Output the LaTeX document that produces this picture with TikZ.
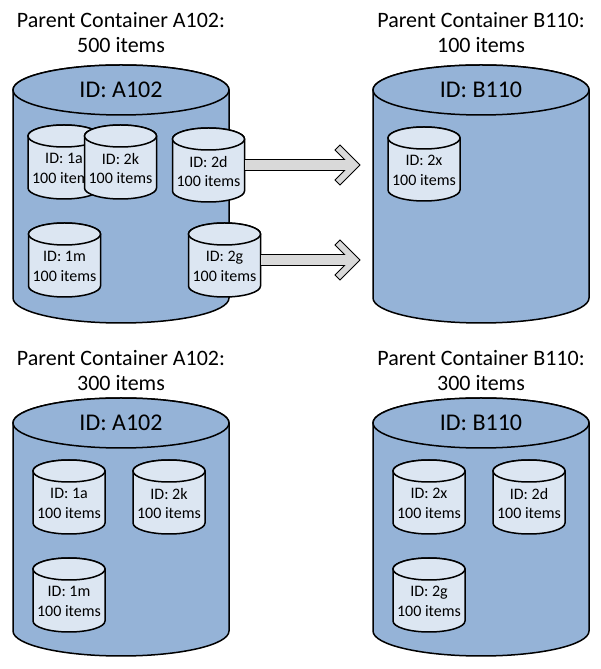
\documentclass[tikz,border=0pt]{standalone}
\usepackage{fontspec}
\setmainfont{Carlito}
\usetikzlibrary{calc}

\definecolor{drumblue}{RGB}{149,179,215}
\definecolor{cupblue}{RGB}{220,230,242}
\definecolor{arrowgray}{RGB}{217,217,217}

\newcommand{\shiparrow}[2]{%
  \filldraw[movearrow] ($(#1)+(0,5.5)$) -- ($(#2)+(-15.5,5.5)$) -- ($(#2)+(-25,15)$)
    -- ($(#2)+(-20,20)$) -- (#2) -- ($(#2)+(-20,-20)$) -- ($(#2)+(-25,-15)$)
    -- ($(#2)+(-15.5,-5.5)$) -- ($(#1)+(0,-5.5)$) -- cycle;}

\tikzset{
  bigface/.style={draw=black,line width=1.5pt,fill=drumblue},
  cupface/.style={draw=black,line width=1.5pt,fill=cupblue},
  bodybox/.style={inner sep=0pt,outer sep=0pt},
  bigid/.style={font=\fontsize{24}{29}\selectfont},
  cupid/.style={align=center,inner sep=0pt,font=\fontsize{16}{19.5}\selectfont},
  headline/.style={align=center,inner sep=0pt,font=\fontsize{22}{25}\selectfont},
  movearrow/.style={draw=black,line width=0.9pt,fill=arrowgray,line join=miter},
  pics/bigdrum/.style={code={
    \filldraw[bigface] (-108,0) -- (-108,-208) arc[start angle=180,end angle=360,x radius=108,y radius=25]
      -- (108,0) arc[start angle=0,end angle=180,x radius=108,y radius=25] -- cycle;
    \draw[bigface] (0,0) ellipse[x radius=108,y radius=25];
    \node[bodybox,minimum width=216,minimum height=208] (-body) at (0,-104) {};
    \node[bigid] (-id) at (0,0) {#1};
  }},
  pics/cup/.style={code={
    \filldraw[cupface] (-36,0) -- (-36,-52) arc[start angle=180,end angle=360,x radius=36,y radius=11]
      -- (36,0) arc[start angle=0,end angle=180,x radius=36,y radius=11] -- cycle;
    \draw[cupface] (0,0) ellipse[x radius=36,y radius=11];
    \node[bodybox,minimum width=72,minimum height=52] (-body) at (0,-26) {};
    \node[cupid] (-id) at (0,-32.5) {ID: #1\\100 items};
  }},
}

\begin{document}
\begin{tikzpicture}[x=1pt,y=1pt]
\useasboundingbox (0,0) rectangle (600,669);

\node[headline] (A1title) at (121,636) {Parent Container A102:\\500 items};
\node[headline] (B1title) at (481,636) {Parent Container B110:\\100 items};
\node[headline] (A2title) at (121,298.5) {Parent Container A102:\\300 items};
\node[headline] (B2title) at (481,298.5) {Parent Container B110:\\300 items};

\pic (A1) at (121,579) {bigdrum={ID: A102}};
\pic (B1) at (481,579) {bigdrum={ID: B110}};
\pic (A2) at (121,246) {bigdrum={ID: A102}};
\pic (B2) at (481,246) {bigdrum={ID: B110}};

\pic (A1a) at (64,533) {cup=1a};
\pic (A1k) at (120.5,533) {cup=2k};
\pic (A1d) at (208.5,530) {cup=2d};
\pic (A1m) at (64.5,435) {cup=1m};
\pic (A1g) at (224.5,435) {cup=2g};
\pic (B1x) at (424,531) {cup=2x};

\pic (A2a) at (69,198) {cup=1a};
\pic (A2k) at (169,198) {cup=2k};
\pic (A2m) at (69,100) {cup=1m};
\pic (B2x) at (429,198) {cup=2x};
\pic (B2d) at (529,198) {cup=2d};
\pic (B2g) at (429,100) {cup=2g};

\coordinate (tipd) at ($(B1-body.west |- A1d-body.east)+(-13,0)$);
\coordinate (tipg) at ($(B1-body.west |- A1g-body.east)+(-13,0)$);
\shiparrow{A1d-body.east}{tipd}
\shiparrow{A1g-body.east}{tipg}
\end{tikzpicture}
\end{document}
